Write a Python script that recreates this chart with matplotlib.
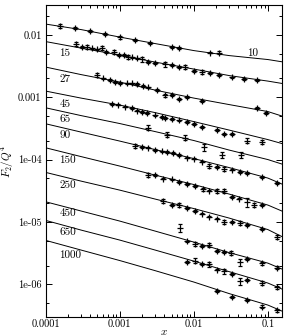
import numpy as np
import matplotlib
matplotlib.use("Agg")
import matplotlib.pyplot as plt
from matplotlib.ticker import LogLocator, NullFormatter

plt.rcParams['font.family'] = 'serif'
plt.rcParams['font.serif'] = ['cmr10']
plt.rcParams['mathtext.fontset'] = 'cm'
plt.rcParams['axes.unicode_minus'] = False

# Q^2 values of the curves
q2_labels = ["10", "15", "27", "45", "65", "90", "150", "250", "450", "650", "1000"]

# fit curves, sampled at x_curve
x_curve = [1e-4, 3e-4, 1e-3, 3e-3, 1e-2, 3e-2, 0.1, 0.155]
fit10 = [0.01484, 0.01212, 0.00919, 0.00723, 0.00558, 0.00464, 0.00401, 0.00369]
fit15 = [0.00778, 0.00612, 0.00473, 0.00365, 0.00282, 0.00222, 0.00181, 0.00166]
fit27 = [0.003037, 0.002302, 0.001746, 0.001299, 0.000967, 0.000761, 0.000588, 0.000498]
fit45 = [0.001252, 0.000967, 0.000747, 0.000566, 0.000406, 0.000297, 0.000209, 0.0001805]
fit65 = [0.000676, 0.000507, 0.000378, 0.000281, 0.000202, 0.000142, 0.0001, 0.0000847]
fit90 = [0.0003748, 0.0002759, 0.0001979, 0.0001446, 0.0001038, 0.0000744, 0.0000505, 0.0000405]
fit150 = [0.0001545, 0.0001117, 0.0000787, 0.0000564, 0.0000398, 0.000028, 0.00001866, 0.00001495]
fit250 = [6.23e-5, 4.52e-5, 3.24e-5, 2.33e-5, 1.64e-5, 1.155e-5, 7.55e-6, 5.83e-6]
fit450 = [2.107e-5, 1.50e-5, 1.034e-5, 7.15e-6, 4.76e-6, 3.23e-6, 2.19e-6, 1.76e-6]
fit650 = [1.06e-5, 7.42e-6, 5.13e-6, 3.55e-6, 2.36e-6, 1.60e-6, 1.05e-6, 8.41e-7]
fit1000 = [5.07e-6, 3.55e-6, 2.41e-6, 1.66e-6, 1.09e-6, 7.12e-7, 4.66e-7, 3.73e-7]

# label positions (left edge of text) for each curve
label_x = [0.0525, 1.53e-4, 1.53e-4, 1.53e-4, 1.53e-4, 1.53e-4, 1.53e-4, 1.53e-4, 1.53e-4, 1.53e-4, 1.53e-4]
label_y = [5.03e-3, 5.03e-3, 1.95e-3, 7.75e-4, 4.46e-4, 2.47e-4, 9.64e-5, 3.9e-5, 1.374e-5, 6.97e-6, 2.95e-6]

# measured points: x, F2/Q^4, relative error
x10 = [1.56e-4, 2.49e-4, 3.97e-4, 6.33e-4, 1.01e-3, 1.61e-3, 2.57e-3, 5.09e-3, 6.33e-3, 0.0166, 0.0216]
f10 = [0.0139, 0.01268, 0.01146, 0.01015, 0.00908, 0.00832, 0.00745, 0.00635, 0.00612, 0.00519, 0.00519]
e10 = [0.08, 0.04, 0.04, 0.04, 0.04, 0.04, 0.04, 0.04, 0.04, 0.03, 0.04]

x15 = [2.57e-4, 3.07e-4, 3.65e-4, 4.18e-4, 4.89e-4, 5.71e-4, 6.53e-4, 8.45e-4, 9.78e-4,
       1.154e-3, 1.307e-3, 1.453e-3, 1.697e-3, 1.983e-3, 2.39e-3, 3.0e-3, 4.13e-3, 5.09e-3,
       6.27e-3, 7.70e-3, 0.01, 0.01295, 0.01676, 0.02163, 0.03293, 0.0474, 0.0717]
f15 = [0.00717, 0.00642, 0.00642, 0.00605, 0.00583, 0.00619, 0.00534, 0.00534, 0.00473,
       0.00473, 0.00444, 0.00434, 0.00418, 0.00403, 0.00369, 0.00352, 0.00335, 0.00327,
       0.00307, 0.00307, 0.00262, 0.00255, 0.00246, 0.00226, 0.00208, 0.00195, 0.00188]
e15 = [0.08, 0.03, 0.08, 0.03, 0.03, 0.08, 0.03, 0.08, 0.03,
       0.03, 0.08, 0.03, 0.03, 0.08, 0.03, 0.03, 0.08, 0.03,
       0.03, 0.08, 0.03, 0.08, 0.03, 0.03, 0.03, 0.03, 0.03]

x27 = [4.89e-4, 6.0e-4, 7.39e-4, 8.70e-4, 1.01e-3, 1.243e-3, 1.453e-3, 1.697e-3, 2.084e-3,
       2.435e-3, 3.16e-3, 4.13e-3, 5.09e-3, 6.27e-3, 8.12e-3, 0.01295, 0.0717, 0.0928]
f27 = [0.00226, 0.0020, 0.00188, 0.001765, 0.001701, 0.001664, 0.001664, 0.001622, 0.001506,
       0.001436, 0.001299, 0.001068, 0.001093, 0.000943, 0.001004, 0.000866, 0.000669, 0.000556]
e27 = [0.07, 0.03, 0.03, 0.03, 0.03, 0.03, 0.03, 0.03, 0.03,
       0.03, 0.03, 0.07, 0.03, 0.04, 0.04, 0.04, 0.05, 0.04]

x45 = [7.80e-4, 9.57e-4, 1.179e-3, 1.453e-3, 1.697e-3, 1.983e-3, 2.317e-3, 3.0e-3, 3.69e-3, 4.13e-3,
       5.09e-3, 6.27e-3, 8.12e-3, 0.01, 0.01295, 0.02065, 0.0254, 0.0329, 0.0525, 0.0837]
f45 = [0.00079, 0.000761, 0.000707, 0.000669, 0.00061, 0.000577, 0.000556, 0.000511, 0.00048, 0.000462,
       0.00045, 0.000425, 0.000399, 0.000375, 0.000332, 0.0003, 0.000261, 0.00026, 0.000202, 0.000194]
e45 = [0.04, 0.03, 0.03, 0.03, 0.03, 0.03, 0.03, 0.03, 0.03, 0.03,
       0.03, 0.03, 0.03, 0.03, 0.04, 0.04, 0.04, 0.04, 0.08, 0.07]

x65 = [2.42e-3, 4.32e-3, 7.63e-3, 0.01357, 0.0241, 0.0436]
f65 = [0.000326, 0.000252, 0.000225, 0.0001586, 0.0001203, 0.00012]
e65 = [0.09, 0.1, 0.1, 0.12, 0.12, 0.12]

x90 = [1.609e-3, 1.983e-3, 2.42e-3, 3.0e-3, 3.69e-3, 4.32e-3, 5.25e-3, 6.39e-3, 7.99e-3, 0.01,
       0.01295, 0.01585, 0.02065, 0.02527, 0.0329, 0.0422, 0.0525, 0.0837, 0.1336]
f90 = [0.0001677, 0.0001586, 0.0001558, 0.000142, 0.0001353, 0.0001319, 0.0001262, 0.0001181, 0.0001077, 0.0001038,
       0.0000929, 0.0000801, 0.0000758, 0.0000704, 0.0000691, 0.000063, 0.0000608, 0.0000534, 0.0000428]
e90 = [0.07, 0.03, 0.03, 0.03, 0.03, 0.03, 0.03, 0.03, 0.03, 0.03,
       0.03, 0.07, 0.03, 0.07, 0.03, 0.03, 0.03, 0.04, 0.04]

x150 = [2.42e-3, 3.0e-3, 3.85e-3, 5.09e-3, 6.33e-3, 8.12e-3, 0.01041, 0.01315, 0.0161, 0.02065,
        0.02527, 0.0329, 0.0409, 0.0525, 0.0653, 0.0837]
f150 = [0.0000575, 0.0000564, 0.0000496, 0.0000482, 0.0000436, 0.0000409, 0.0000376, 0.0000333, 0.0000318, 0.0000313,
        0.0000318, 0.0000251, 0.0000237, 0.0000208, 0.000019, 0.000019]
e150 = [0.07, 0.03, 0.03, 0.03, 0.03, 0.03, 0.03, 0.07, 0.03, 0.07,
        0.07, 0.03, 0.03, 0.15, 0.07, 0.04]

x250 = [3.85e-3, 5.09e-3, 6.33e-3, 8.12e-3, 0.01041, 0.01295, 0.01585, 0.02065, 0.02527, 0.0329,
        0.0422, 0.0525, 0.0837, 0.1336]
f250 = [0.000022, 0.0000187, 0.0000187, 0.0000167, 0.000015, 0.0000136, 0.0000122, 0.0000113, 0.00000996, 0.00000996,
        0.0000096, 0.00000892, 0.00000769, 0.00000573]
e250 = [0.08, 0.03, 0.08, 0.03, 0.03, 0.03, 0.03, 0.03, 0.08, 0.03,
        0.08, 0.04, 0.04, 0.08]

x450 = [6.53e-3, 8.12e-3, 0.01041, 0.01295, 0.01585, 0.02065, 0.0257, 0.0319, 0.0422, 0.0525, 0.0837, 0.1336]
f450 = [8.13e-6, 4.89e-6, 4.5e-6, 4.15e-6, 4.26e-6, 3.42e-6, 3.29e-6, 3.17e-6, 2.28e-6, 2.54e-6, 2.17e-6, 1.85e-6]
e450 = [0.14, 0.03, 0.08, 0.03, 0.08, 0.03, 0.03, 0.08, 0.12, 0.03, 0.05, 0.05]

x650 = [8.12e-3, 0.01041, 0.01295, 0.0161, 0.02065, 0.02527, 0.0329, 0.0422, 0.0525, 0.0837, 0.1336]
f650 = [2.28e-6, 2.41e-6, 2.11e-6, 2.10e-6, 1.73e-6, 1.62e-6, 1.46e-6, 1.13e-6, 1.19e-6, 1.05e-6, 9.05e-7]
e650 = [0.03, 0.08, 0.03, 0.08, 0.03, 0.08, 0.03, 0.14, 0.04, 0.06, 0.06]

x1000 = [0.02065, 0.0329, 0.0525, 0.0837, 0.1336]
f1000 = [7.81e-7, 6.33e-7, 5.6e-7, 4.38e-7, 3.87e-7]
e1000 = [0.04, 0.04, 0.04, 0.06, 0.06]

fits = [fit10, fit15, fit27, fit45, fit65, fit90, fit150, fit250, fit450, fit650, fit1000]
points = [(x10, f10, e10), (x15, f15, e15), (x27, f27, e27), (x45, f45, e45), (x65, f65, e65),
          (x90, f90, e90), (x150, f150, e150), (x250, f250, e250), (x450, f450, e450),
          (x650, f650, e650), (x1000, f1000, e1000)]

fig = plt.figure(figsize=(2.92, 3.36), dpi=100)
ax = fig.add_axes([0.1565, 0.0565, 0.8093, 0.9286])

for fit in fits:
    ax.plot(x_curve, fit, color="black", linewidth=0.7, zorder=2)

for xs, fs, es in points:
    fs = np.array(fs)
    ax.errorbar(xs, fs, yerr=fs * np.array(es), fmt="+", color="black",
                markersize=4, markeredgewidth=0.9, elinewidth=0.6,
                capsize=1.5, capthick=0.6, zorder=3)

for lab, lx, ly in zip(q2_labels, label_x, label_y):
    ax.text(lx, ly, lab, fontsize=8, ha="left", va="center")

ax.set_xscale("log")
ax.set_yscale("log")
ax.set_xlim(1e-4, 0.155)
ax.set_ylim(3e-7, 3e-2)

ax.set_xticks([1e-4, 1e-3, 1e-2, 0.1])
ax.set_xticklabels(["0.0001", "0.001", "0.01", "0.1"])
ax.xaxis.set_minor_locator(LogLocator(base=10, subs=np.arange(2, 10)))
ax.xaxis.set_minor_formatter(NullFormatter())

ax.set_yticks([1e-6, 1e-5, 1e-4, 1e-3, 1e-2])
ax.set_yticklabels(["1e-06", "1e-05", "1e-04", "0.001", "0.01"])
ax.yaxis.set_minor_locator(LogLocator(base=10, subs=[2, 5]))
ax.yaxis.set_minor_formatter(NullFormatter())

ax.tick_params(which="both", direction="in", top=True, right=True, labelsize=7.5, width=0.7)
ax.tick_params(which="major", length=4.5)
ax.tick_params(which="minor", length=2.5)
ax.tick_params(axis="x", pad=2)
ax.tick_params(axis="y", pad=3)
for s in ax.spines.values():
    s.set_linewidth(0.8)

ax.set_xlabel(r"$x$", fontsize=8)
ax.xaxis.set_label_coords(0.5, -0.033)
ax.set_ylabel(r"$F_2/Q^4$", fontsize=8, labelpad=1)

fig.savefig("out.png", dpi=100)
